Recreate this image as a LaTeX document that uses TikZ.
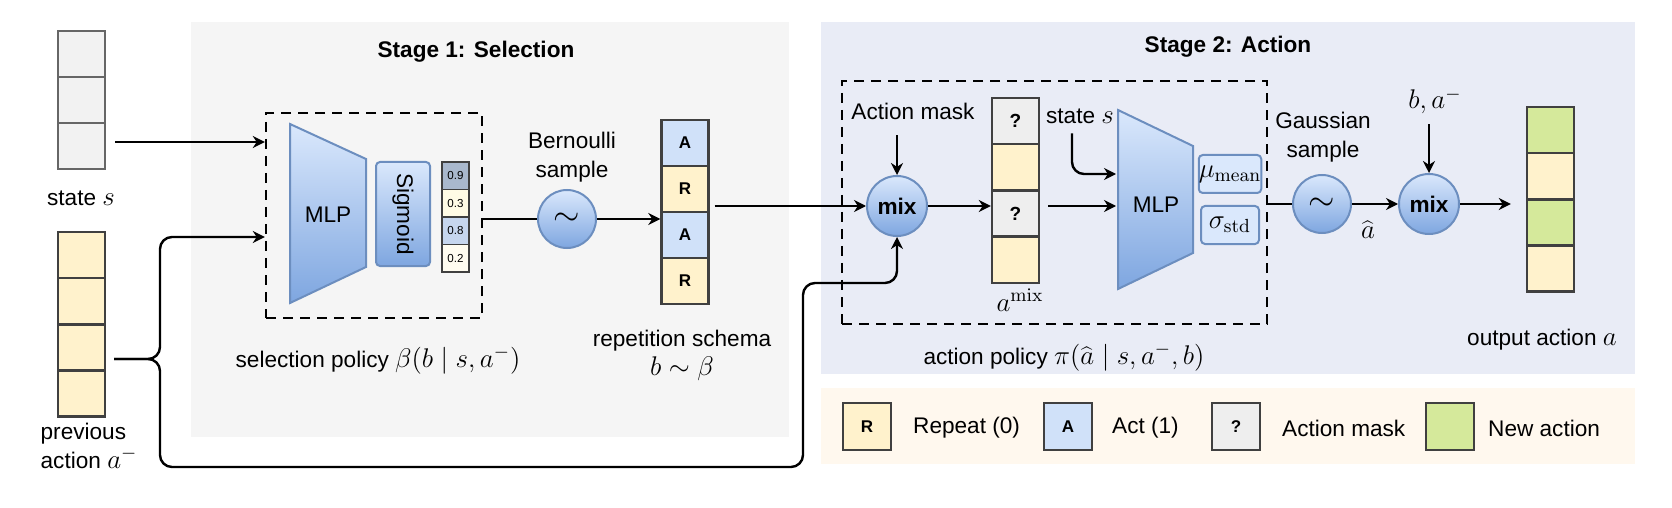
\RequirePackage{fix-cm}
\documentclass[tikz,border=0pt]{standalone}
\usepackage[no-math]{fontspec}
\setmainfont{Liberation Sans}
\usetikzlibrary{arrows.meta}
\DeclareMathSizes{11.3}{13.5}{9.5}{7.5}

\definecolor{stageA}{HTML}{F5F5F5}
\definecolor{stageB}{HTML}{E9ECF6}
\definecolor{keybg}{HTML}{FFF8EE}
\definecolor{cellline}{HTML}{404040}
\definecolor{stateline}{HTML}{666666}
\definecolor{stategray}{HTML}{F2F2F2}
\definecolor{repyellow}{HTML}{FFF2CC}
\definecolor{actblue}{HTML}{D0E1F9}
\definecolor{maskgray}{HTML}{EEEEEE}
\definecolor{outgreen}{HTML}{D5E99B}
\definecolor{optop}{HTML}{DAE8FC}
\definecolor{opbot}{HTML}{7EA6E0}
\definecolor{opline}{HTML}{6C8EBF}
\definecolor{pa}{HTML}{A9B8CD}
\definecolor{pb}{HTML}{FFFBE5}
\definecolor{pc}{HTML}{C6D6EE}
\definecolor{pd}{HTML}{FFFCF0}

\tikzset{
  cell/.style={draw=cellline, line width=1.2pt, minimum width=23.5pt, minimum height=23pt,
    inner sep=0pt, font=\fontsize{8.5}{10}\selectfont\bfseries},
  probcell/.style={draw=cellline, line width=0.8pt, minimum width=13.5pt, minimum height=13.75pt,
    inner sep=0pt, font=\fontsize{5.8}{7}\selectfont},
  opnode/.style={circle, draw=opline, line width=1pt, top color=optop, bottom color=opbot,
    minimum size=29pt, inner sep=0pt},
  blockshape/.style={draw=opline, line width=1pt, top color=optop, bottom color=opbot},
  parambox/.style={draw=opline, line width=1pt, fill=optop, rounded corners=2pt,
    minimum width=29pt, minimum height=19pt, inner sep=0pt},
  dashbox/.style={draw, line width=1.2pt, dash pattern=on 5pt off 3.5pt, inner sep=0pt},
}

\begin{document}
\begin{tikzpicture}[x=0.5pt, y=-0.5pt, line width=1.2pt, >={Stealth[length=6pt,width=6pt]},
  font=\fontsize{11.3}{14.5}\selectfont]
\useasboundingbox (0,0) rectangle (1672,508);

% stage backgrounds
\fill[stageA] (191,22) rectangle (789,437);
\fill[stageB] (821,22) rectangle (1635,374);
\fill[keybg] (821,388) rectangle (1635,464);
\node[font=\fontsize{11.3}{14.5}\selectfont\bfseries] (st1) at (476,52) {Stage 1: Selection};
\node[font=\fontsize{11.3}{14.5}\selectfont\bfseries] (st2) at (1228,47) {Stage 2: Action};

% inputs
\foreach \i in {0,1,2}
  \node[cell, draw=stateline, fill=stategray] (s\i) at (81.5,{54+46*\i}) {};
\foreach \i in {0,...,3}
  \node[cell, fill=repyellow] (p\i) at (81.5,{255+46.2*\i}) {};
\node (stlab) at (81,198) {state $s$};
\node[align=left] (pvlab) at (89,446) {previous\\action $a^-$};

% selection policy
\node[dashbox, minimum width=108pt, minimum height=102.5pt] (sel) at (374,215.5) {};
\draw[blockshape] (290,124) -- (366,159) -- (366,267) -- (290,303) -- cycle;
\node (mlpA) at (328,215) {MLP};
\node[blockshape, rounded corners=2pt, minimum width=27pt, minimum height=52pt, inner sep=0pt] (sig) at (403,214) {\rotatebox{-90}{Sigmoid}};
\foreach \v/\c [count=\i from 0] in {0.9/pa,0.3/pb,0.8/pc,0.2/pd}
  \node[probcell, fill=\c] (q\i) at (455.5,{175.75+27.5*\i}) {\v};
\node (sellab) at (378,360) {selection policy $\beta\bigl(b \mid s, a^-\bigr)$};

\node[opnode, font=\fontsize{17}{17}\selectfont] (bern) at (567,219) {$\sim$};
\node[align=center] (bernlab) at (572,157) {Bernoulli\\sample};
\foreach \l/\c [count=\i from 0] in {A/actblue,R/repyellow,A/actblue,R/repyellow}
  \node[cell, fill=\c] (b\i) at (685,{143+46*\i}) {\l};
\node[align=center] (replab) at (682,355) {repetition schema\\$b\sim\beta$};

% action policy
\node[dashbox, minimum width=212.5pt, minimum height=121.5pt] (act) at (1054.5,202.5) {};
\node[opnode, minimum size=30pt, font=\fontsize{11.3}{14.5}\selectfont\bfseries] (mixA) at (897,206) {mix};
\node (mask) at (913,111) {Action mask};
\foreach \l/\c [count=\i from 0] in {?/maskgray,/repyellow,?/maskgray,/repyellow}
  \node[cell, fill=\c, font=\fontsize{9.5}{11}\selectfont\bfseries] (m\i) at (1015.5,{121+46.3*\i}) {\l};
\node (amixlab) at (1020,300) {$a^{\mathrm{mix}}$};
\node (stB) at (1080,116) {state $s$};
\draw[blockshape] (1118,110) -- (1193,146) -- (1193,253) -- (1118,289) -- cycle;
\node (mlpB) at (1156,205) {MLP};
\coordinate (mlpBs) at (1116,174);
\coordinate (mlpBin) at (1116,206);
\node[parambox] (mu) at (1230,174) {$\mu_{\mathrm{mean}}$};
\node[parambox] (sd) at (1230,225) {$\sigma_{\mathrm{std}}$};
\node (actlab) at (1064,357) {action policy $\pi\bigl(\widehat{a} \mid s, a^-, b\bigr)$};

\node[opnode, font=\fontsize{17}{17}\selectfont] (gauss) at (1322,204) {$\sim$};
\node[align=center] (gausslab) at (1323,137) {Gaussian\\sample};
\node (ahat) at (1368,230) {$\widehat{a}$};
\node[opnode, minimum size=30pt, font=\fontsize{11.3}{14.5}\selectfont\bfseries] (mixB) at (1429,204) {mix};
\node (ba) at (1435,101) {$b, a^-$};
\foreach \c [count=\i from 0] in {outgreen,repyellow,outgreen,repyellow}
  \node[cell, fill=\c] (o\i) at (1550.5,{130+46.2*\i}) {};
\node (outlab) at (1542,340) {output action $a$};

% connectors
\coordinate (brace) at (114,359);
\draw[->] ([xshift=4.5pt]s2.east |- 0,142) -- (sel.west |- 0,142);
\draw[->, rounded corners=6pt] (brace) -- (160,359) -- (160,237) -- (sel.west |- 0,237);
\draw[->, rounded corners=6pt] (brace) -- (160,359) -- (160,467) -- (803,467) -- (803,283) -- (mixA |- 0,283) -- (mixA.south);
\draw (sel.east |- bern) -- (bern);
\draw[->] (bern) -- (bern -| b2.west);
\draw[->] ([xshift=2.5pt]b1.east |- mixA) -- (mixA);
\draw[->] ([yshift=-4pt]mask.south -| mixA) -- (mixA);
\draw[->] (mixA) -- (mixA -| m2.west);
\draw[->] ([xshift=4pt]m2.east |- mixA) -- (mlpBin);
\draw[->, rounded corners=6pt] ([xshift=-4pt,yshift=-1pt]stB.south) |- (mlpBs);
\draw (act.east |- gauss) -- (gauss);
\draw[->] (gauss) -- (mixB);
\draw[->] ([yshift=-1pt]ba.south -| mixB) -- (mixB);
\draw[->] (mixB) -- ([xshift=-7.5pt]o2.west |- mixB);

% legend
\foreach \l/\c/\t/\x/\tx [count=\i] in {R/repyellow/Repeat (0)/867/912, A/actblue/Act (1)/1068/1111,
    ?/maskgray/Action mask/1236/1281, /outgreen/New action/1450/1487} {
  \node[cell, fill=\c, minimum width=24pt, minimum height=23.5pt] (key\i) at (\x,426.5) {\l};
  \node[anchor=west, inner sep=0pt] (keytxt\i) at (\tx,428) {\t};
}
\end{tikzpicture}
\end{document}
